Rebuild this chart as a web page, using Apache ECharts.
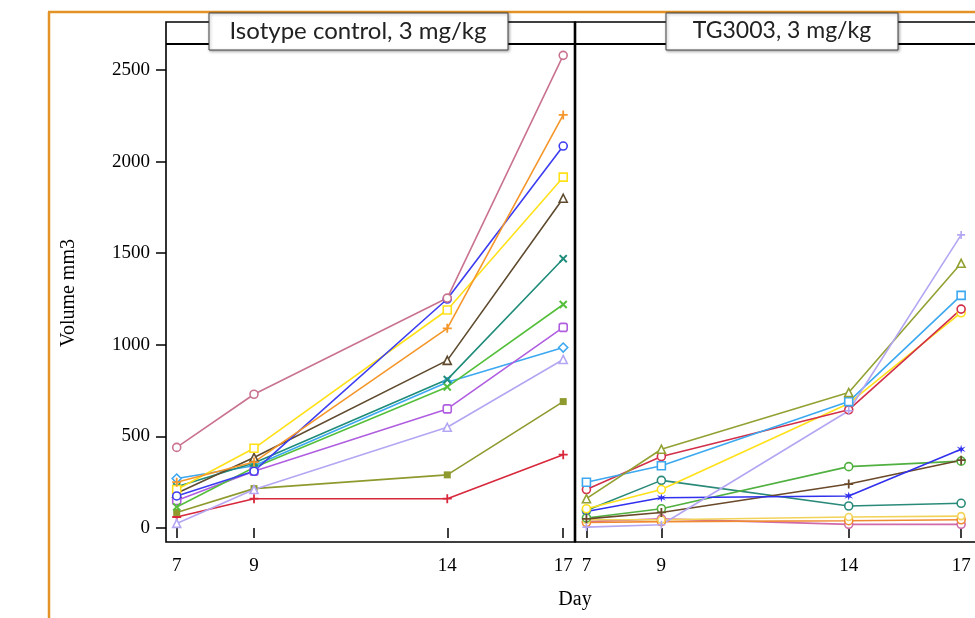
<!DOCTYPE html>
<html><head><meta charset="utf-8">
<script src="https://cdn.jsdelivr.net/npm/echarts@6/dist/echarts.min.js"></script>
<style>html,body{margin:0;padding:0;background:#fff}#c{width:975px;height:618px}</style>
</head><body><div id="c"></div>
<script>
// ---- data ----
const days = [7, 9, 14, 17];
const dayTicks = [7, 9, 14, 17];
const volumeTicks = [0, 500, 1000, 1500, 2000, 2500];
const panelTitles = ['Isotype control, 3 mg/kg', 'TG3003, 3 mg/kg'];
const xTitle = 'Day';
const yTitle = 'Volume mm3';

// Isotype control, 3 mg/kg
const iso_pink      = [440, 730, 1255, 2580];
const iso_orange    = [250, 360, 1090, 2255];
const iso_blue      = [175, 310, 1250, 2085];
const iso_yellow    = [210, 435, 1190, 1915];
const iso_brown     = [190, 385, 915, 1800];
const iso_teal      = [225, 355, 810, 1470];
const iso_green     = [115, 330, 770, 1220];
const iso_purple    = [150, 310, 650, 1095];
const iso_lightblue = [270, 340, 795, 985];
const iso_lavender  = [25, 210, 550, 920];
const iso_olive     = [85, 215, 290, 690];
const iso_red       = [60, 160, 160, 400];

// TG3003, 3 mg/kg
const tg_lavender  = [5, 18, 640, 1600];
const tg_olive     = [160, 430, 740, 1445];
const tg_lightblue = [250, 340, 690, 1270];
const tg_red       = [210, 390, 645, 1195];
const tg_yellow    = [105, 210, 680, 1175];
const tg_blue      = [90, 165, 175, 430];
const tg_brown     = [50, 85, 240, 370];
const tg_green     = [55, 105, 335, 365];
const tg_teal      = [95, 260, 120, 135];
const tg_gold      = [45, 45, 60, 65];
const tg_orange    = [30, 35, 40, 45];
const tg_pink      = [35, 50, 20, 20];

// ---- styling ----
const PLUS = 'path://M4,0H6V4H10V6H6V10H4V6H0V4H4Z';
const STAR = 'path://M5,0L6,3.5L10,2L7,5L10,8L6,6.5L5,10L4,6.5L0,8L3,5L0,2L4,3.5Z';

const specs = [
  // panel, values, color, symbol, hollow, rotate, size
  [0, iso_red,       '#d8283c', PLUS,       false, 0, 9],
  [0, iso_olive,     '#8f9a2e', 'rect',     false, 0, 7],
  [0, iso_lavender,  '#b4a6f2', 'triangle', true,  0, 8],
  [0, iso_lightblue, '#3ca8f0', 'diamond',  true,  0, 9],
  [0, iso_purple,    '#b05ee0', 'roundRect',true,  0, 8],
  [0, iso_green,     '#55bf3b', PLUS,       false, 45, 10],
  [0, iso_teal,      '#1f8c7a', PLUS,       false, 45, 10],
  [0, iso_brown,     '#5e4a2e', 'triangle', true,  0, 8],
  [0, iso_yellow,    '#ffe11a', 'rect',     true,  0, 8],
  [0, iso_blue,      '#3c3cf0', 'circle',   true,  0, 8],
  [0, iso_orange,    '#f5962a', PLUS,       false, 0, 9],
  [0, iso_pink,      '#c9738f', 'circle',   true,  0, 8],
  [1, tg_pink,       '#d06aa8', 'circle',   true,  0, 8],
  [1, tg_orange,     '#f08a30', 'circle',   true,  0, 8],
  [1, tg_gold,       '#f2d35a', 'circle',   true,  0, 7],
  [1, tg_teal,       '#2a8a7a', 'circle',   true,  0, 8],
  [1, tg_green,      '#50b040', 'circle',   true,  0, 8],
  [1, tg_brown,      '#6a4a2a', PLUS,       false, 0, 9],
  [1, tg_blue,       '#3030ee', STAR,       false, 0, 9],
  [1, tg_yellow,     '#ffe11a', 'circle',   true,  0, 8],
  [1, tg_red,        '#d2304a', 'circle',   true,  0, 8],
  [1, tg_lightblue,  '#3ca8f0', 'rect',     true,  0, 8],
  [1, tg_olive,      '#93a032', 'triangle', true,  0, 8],
  [1, tg_lavender,   '#b4a6f2', PLUS,       false, 0, 8]
];

const series = specs.map(([p, vals, c, sym, hollow, rot, size]) => ({
  type: 'line',
  xAxisIndex: p, yAxisIndex: p,
  data: days.map((d, i) => [d, vals[i]]),
  symbol: sym, symbolSize: size, symbolRotate: rot,
  showAllSymbol: true,
  lineStyle: { color: c, width: 1.6 },
  itemStyle: hollow ? { color: '#fff', borderColor: c, borderWidth: 1.6 } : { color: c, borderWidth: 0 },
  emphasis: { disabled: true },
  animation: false
}));

const serif = 'Liberation Serif';
const plain = v => String(v);
const xAxisBase = (grid, min, max) => ({
  type: 'value', gridIndex: grid, min: min, max: max,
  axisLine: { show: false }, splitLine: { show: false },
  axisTick: { show: true, customValues: dayTicks, length: 10, lineStyle: { color: '#000', width: 1.5 } },
  axisLabel: { show: true, customValues: dayTicks, formatter: plain, fontFamily: serif, fontSize: 19, color: '#000', margin: 15 }
});

const option = {
  backgroundColor: '#fff',
  animation: false,
  grid: [
    { left: 166, top: 44, width: 409, height: 498 },
    { left: 575, top: 44, width: 409, height: 498 }
  ],
  xAxis: [ xAxisBase(0, 6.723, 17.305), xAxisBase(1, 6.695, 17.37) ],
  yAxis: [
    { type: 'value', gridIndex: 0, min: -76.4, max: 2641.9,
      axisLine: { show: false }, splitLine: { show: false },
      axisTick: { show: true, customValues: volumeTicks, length: 10, lineStyle: { color: '#000', width: 1.5 } },
      axisLabel: { show: true, customValues: volumeTicks, formatter: plain, fontFamily: serif, fontSize: 19, color: '#000', margin: 16 },
      name: yTitle, nameLocation: 'middle', nameGap: 87, nameRotate: 90,
      nameTextStyle: { fontFamily: serif, fontSize: 20, color: '#000' } },
    { type: 'value', gridIndex: 1, min: -76.4, max: 2641.9, show: false }
  ],
  graphic: [
    { type: 'line', z: 100, shape: { x1: 49, y1: 12, x2: 49, y2: 618 }, style: { stroke: '#e39226', lineWidth: 2.5 } },
    { type: 'line', z: 100, shape: { x1: 48, y1: 12, x2: 975, y2: 12 }, style: { stroke: '#e39226', lineWidth: 2.5 } },
    { type: 'rect', z: 50, shape: { x: 166, y: 22, width: 409, height: 520 }, style: { fill: null, stroke: '#000', lineWidth: 1.6 } },
    { type: 'rect', z: 50, shape: { x: 575, y: 22, width: 420, height: 520 }, style: { fill: null, stroke: '#000', lineWidth: 1.6 } },
    { type: 'line', z: 50, shape: { x1: 166, y1: 44, x2: 975, y2: 44 }, style: { stroke: '#000', lineWidth: 2.2 } },
    { type: 'line', z: 50, shape: { x1: 575, y1: 22, x2: 575, y2: 542 }, style: { stroke: '#000', lineWidth: 2.6 } },
    { type: 'rect', z: 110, shape: { x: 209, y: 13, width: 299, height: 37 },
      style: { fill: '#fff', stroke: '#444', lineWidth: 1, shadowBlur: 3, shadowOffsetX: 1, shadowOffsetY: 1, shadowColor: 'rgba(0,0,0,0.35)' } },
    { type: 'rect', z: 110, shape: { x: 666, y: 13, width: 232, height: 37 },
      style: { fill: '#fff', stroke: '#444', lineWidth: 1, shadowBlur: 3, shadowOffsetX: 1, shadowOffsetY: 1, shadowColor: 'rgba(0,0,0,0.35)' } },
    { type: 'text', z: 120, x: 358, y: 31, style: { text: panelTitles[0], fontFamily: 'Lato', fontSize: 24, fill: '#222', textAlign: 'center', textVerticalAlign: 'middle' } },
    { type: 'text', z: 120, x: 782, y: 31, style: { text: panelTitles[1], fontFamily: 'Lato', fontSize: 23, fill: '#222', textAlign: 'center', textVerticalAlign: 'middle' } },
    { type: 'text', z: 120, x: 575, y: 600, style: { text: xTitle, fontFamily: serif, fontSize: 20, fill: '#000', textAlign: 'center', textVerticalAlign: 'middle' } }
  ],
  series: series
};

const chart = echarts.init(document.getElementById('c'), null, { renderer: 'canvas' });
chart.setOption(option);
</script>
</body></html>
